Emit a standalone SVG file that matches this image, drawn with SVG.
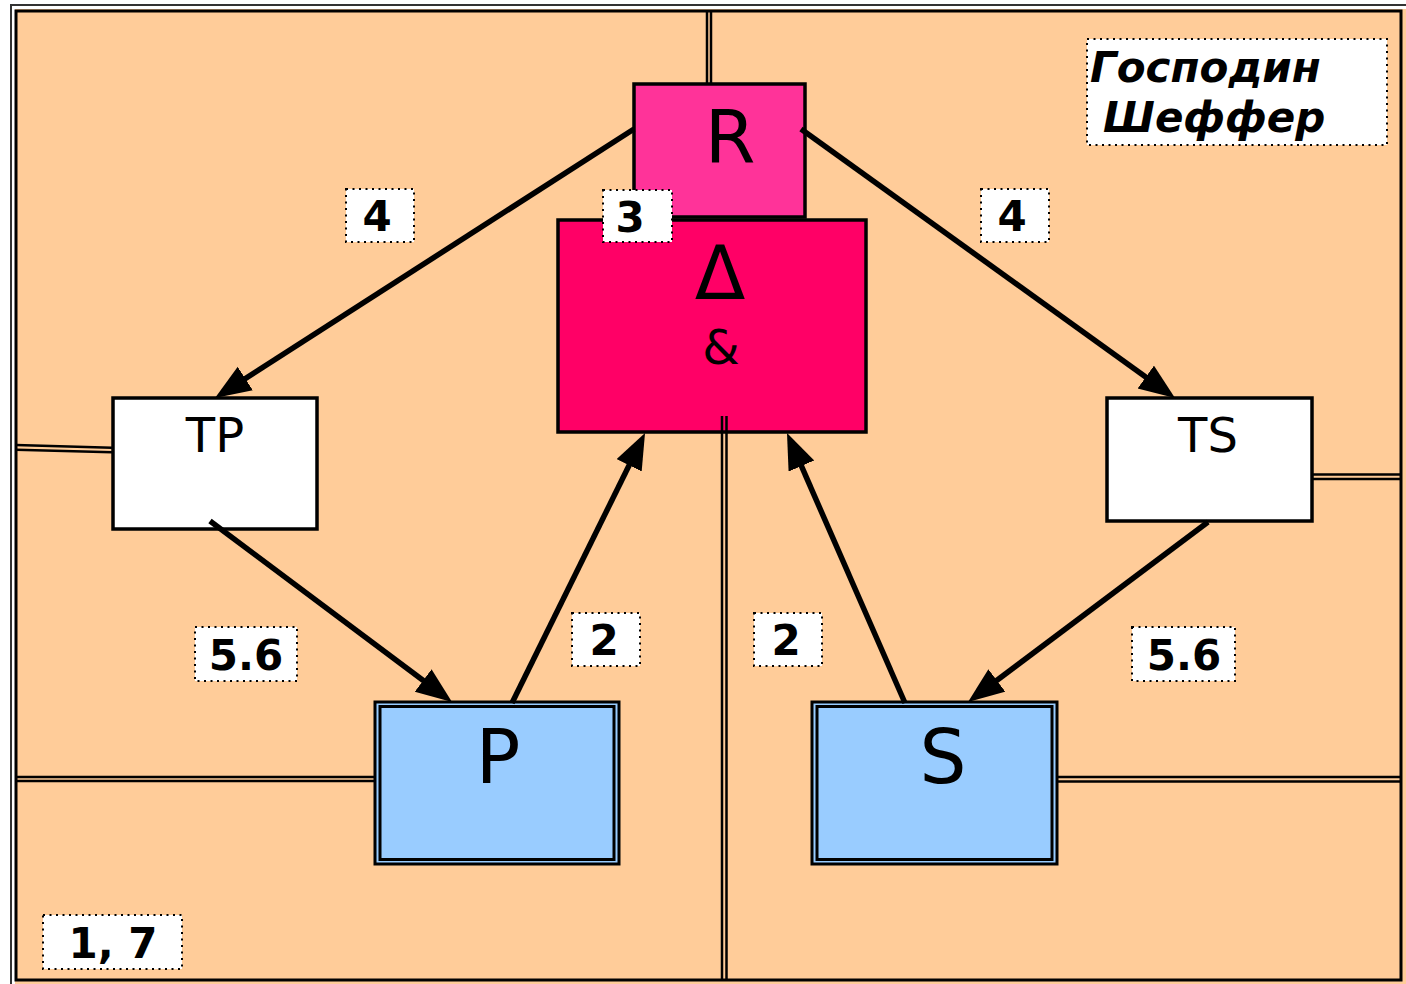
<svg xmlns="http://www.w3.org/2000/svg" width="1406" height="984" viewBox="0 0 1406 984">
<defs>
<style>
.node{stroke:#000;stroke-width:3.5}
.nt{font-family:"DejaVu Sans","Liberation Sans",sans-serif;fill:#000;text-anchor:middle}
.lb{fill:#fff;stroke:#000;stroke-width:2;stroke-dasharray:2 4.5}
.lt{font-family:"DejaVu Sans","Liberation Sans",sans-serif;font-weight:bold;font-size:42px;fill:#000;text-anchor:middle}
.dl{stroke:#000;stroke-width:2.5;fill:none}
.cn{stroke:#000;stroke-width:5.5;fill:none;marker-end:url(#ah)}
</style>
<marker id="ah" markerUnits="userSpaceOnUse" markerWidth="40" markerHeight="32" refX="26" refY="14" orient="auto">
<path d="M0,0 L36,14 L0,28 z" fill="#000"/>
</marker>
</defs>
<rect width="1406" height="984" fill="#fff"/>
<g id="frame">
<rect x="11" y="5" width="1400" height="990" fill="#FFCC99" stroke="#333" stroke-width="2"/>
<rect x="13.5" y="7.5" width="1400" height="990" fill="none" stroke="#fff" stroke-width="3"/>
<rect x="16" y="11" width="1385" height="969" fill="none" stroke="#000" stroke-width="3"/>
</g>
<g id="node-R">
<rect class="node" x="634" y="84" width="171" height="133" fill="#FF3399"/>
<text class="nt" x="730" y="163" font-size="73">R</text>
</g>
<g id="node-Delta">
<rect class="node" x="558" y="220" width="308" height="212" fill="#FF0066"/>
<text class="nt" x="720" y="299" font-size="74">Δ</text>
<text class="nt" x="721" y="364" font-size="48">&amp;</text>
</g>
<g id="node-TP">
<rect class="node" x="113" y="398" width="204" height="131" fill="#fff"/>
<text class="nt" x="215" y="452" font-size="48">TP</text>
</g>
<g id="node-TS">
<rect class="node" x="1107" y="398" width="205" height="123" fill="#fff"/>
<text class="nt" x="1208" y="452" font-size="48">TS</text>
</g>
<g id="node-P">
<rect x="375" y="702" width="244" height="162" fill="#99CCFF" stroke="#000" stroke-width="3"/>
<rect x="380" y="706.5" width="234" height="153" fill="#99CCFF" stroke="#000" stroke-width="3"/>
<text class="nt" x="498" y="783" font-size="74">P</text>
</g>
<g id="node-S">
<rect x="812" y="702" width="245" height="162" fill="#99CCFF" stroke="#000" stroke-width="3"/>
<rect x="817" y="706.5" width="235" height="153" fill="#99CCFF" stroke="#000" stroke-width="3"/>
<text class="nt" x="943" y="783" font-size="74">S</text>
</g>
<g id="dividers">
<line class="dl" x1="707" y1="11" x2="707" y2="83"/>
<line class="dl" x1="711" y1="11" x2="711" y2="83"/>
<line class="dl" x1="722" y1="416" x2="722" y2="980"/>
<line class="dl" x1="726.5" y1="416" x2="726.5" y2="980"/>
<line class="dl" x1="16" y1="445" x2="112" y2="447.7"/>
<line class="dl" x1="16" y1="449.7" x2="112" y2="452.3"/>
<line class="dl" x1="1313" y1="474.5" x2="1401" y2="474.5"/>
<line class="dl" x1="1313" y1="479" x2="1401" y2="479"/>
<line class="dl" x1="16" y1="777" x2="374" y2="777"/>
<line class="dl" x1="16" y1="781" x2="374" y2="781"/>
<line class="dl" x1="1058" y1="777" x2="1401" y2="777"/>
<line class="dl" x1="1058" y1="781.5" x2="1401" y2="781.5"/>
</g>
<g id="connectors">
<line class="cn" x1="634" y1="129" x2="223.4" y2="392.6"/>
<line class="cn" x1="801" y1="129" x2="1166.9" y2="392.2"/>
<line class="cn" x1="210" y1="521" x2="444" y2="696"/>
<line class="cn" x1="512" y1="703" x2="640.6" y2="442"/>
<line class="cn" x1="905" y1="703" x2="791" y2="442.2"/>
<line class="cn" x1="1208" y1="522" x2="976" y2="696"/>
</g>
<g id="labels">
<g id="lbl-4a"><rect class="lb" x="346" y="189" width="68" height="53"/><text class="lt" x="377" y="231">4</text></g>
<g id="lbl-3"><rect class="lb" x="603" y="190" width="69" height="52"/><text class="lt" x="630" y="232">3</text></g>
<g id="lbl-4b"><rect class="lb" x="981" y="189" width="68" height="53"/><text class="lt" x="1012" y="231">4</text></g>
<g id="lbl-56a"><rect class="lb" x="195" y="627" width="102" height="54"/><text class="lt" x="246" y="670">5.6</text></g>
<g id="lbl-2a"><rect class="lb" x="572" y="613" width="68" height="53"/><text class="lt" x="604" y="655">2</text></g>
<g id="lbl-2b"><rect class="lb" x="754" y="613" width="68" height="53"/><text class="lt" x="786" y="655">2</text></g>
<g id="lbl-56b"><rect class="lb" x="1132" y="627" width="103" height="54"/><text class="lt" x="1184" y="670">5.6</text></g>
<g id="lbl-17"><rect class="lb" x="43" y="915" width="139" height="54"/><text class="lt" x="113" y="958">1, 7</text></g>
<g id="title"><rect class="lb" x="1087" y="39" width="300" height="106"/>
<text font-family="'DejaVu Sans','Liberation Sans',sans-serif" font-weight="bold" font-style="italic" font-size="42" fill="#000"><tspan x="1090" y="82">Господин</tspan><tspan x="1103" y="132">Шеффер</tspan></text></g>
</g>
</svg>
